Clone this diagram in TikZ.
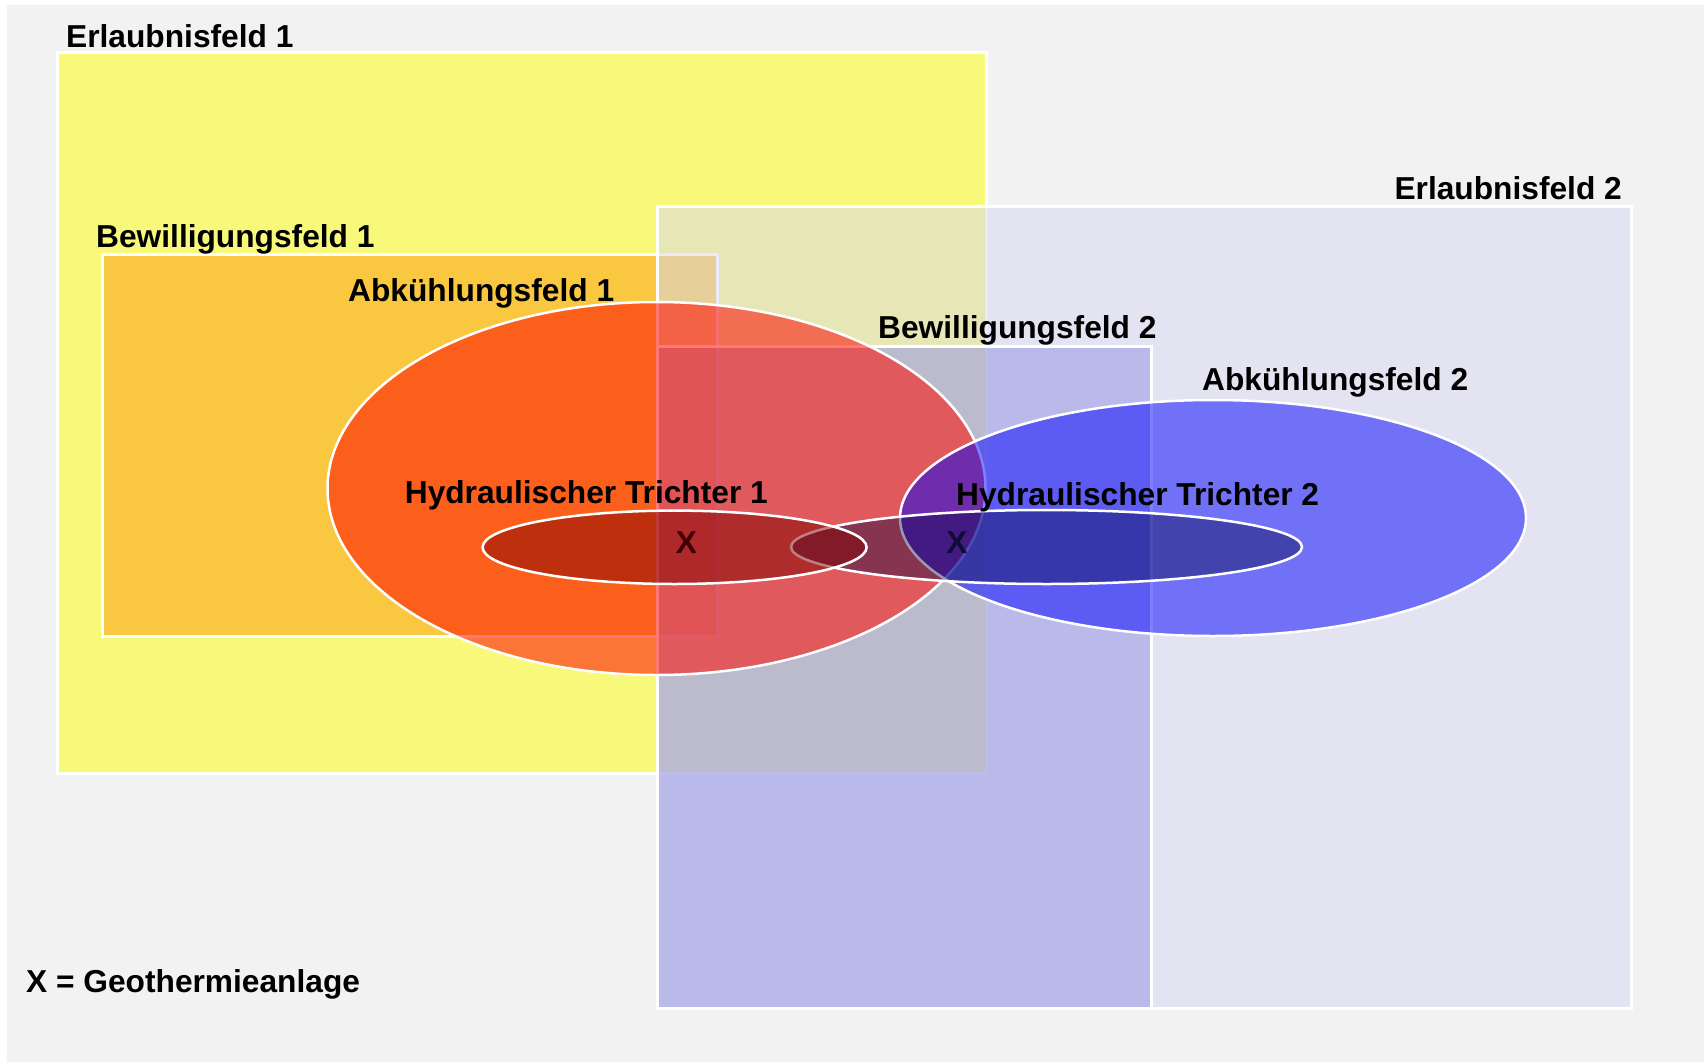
\documentclass[tikz,border=0pt]{standalone}
\usepackage{fontspec}
\setmainfont{Liberation Sans}
\definecolor{bgc}{HTML}{F2F2F2}
\definecolor{eonec}{HTML}{F8F87A}
\definecolor{bonec}{HTML}{F9C840}
\definecolor{etwoc}{RGB}{214,214,242}
\definecolor{btwoc}{RGB}{146,146,228}
\definecolor{aonec}{RGB}{255,10,0}
\definecolor{atwoc}{RGB}{0,0,255}
\definecolor{htonec}{RGB}{128,0,0}
\definecolor{httwoc}{RGB}{0,0,64}
\definecolor{xonec}{HTML}{400006}
\definecolor{xtwoc}{HTML}{0E0E36}
\tikzset{
  field/.style={draw=white, line width=3pt},
  zone/.style={draw=white, line width=2.5pt},
  lbl/.style={inner sep=0pt, font=\fontsize{31.7}{36}\selectfont\bfseries, text=black},
}
\begin{document}
\begin{tikzpicture}[x=1pt,y=-1pt]
\useasboundingbox (0,0) rectangle (1704,1062);
\fill[white] (0,0) rectangle (1704,1062);
\fill[bgc] (7,5) rectangle (1704,1062);
% Erlaubnisfeld 1
\filldraw[field, fill=eonec] (57,53) rectangle (986,773);
% Bewilligungsfeld 1
\filldraw[field, fill=bonec] (102,254) rectangle (717,636);
% Erlaubnisfeld 2
\filldraw[field, fill=etwoc, fill opacity=0.5] (657,206) rectangle (1631,1008);
% Bewilligungsfeld 2
\filldraw[field, fill=btwoc, fill opacity=0.5] (657,346) rectangle (1151,1008);
% Abkuehlungsfeld 1
\filldraw[zone, fill=aonec, fill opacity=0.55] (656.5,488.5) ellipse [x radius=329pt, y radius=186.5pt];
% Abkuehlungsfeld 2
\filldraw[zone, fill=atwoc, fill opacity=0.5] (1213,518) ellipse [x radius=313pt, y radius=118pt];
% Hydraulischer Trichter 2
\filldraw[zone, fill=httwoc, fill opacity=0.4] (1046.5,547) ellipse [x radius=255.5pt, y radius=37pt];
% Hydraulischer Trichter 1
\filldraw[zone, fill=htonec, fill opacity=0.5] (674.6,547.3) ellipse [x radius=192pt, y radius=36.7pt];
% labels
\node[lbl, anchor=base west] (le1) at (66,48) {Erlaubnisfeld 1};
\node[lbl, anchor=base west] (lb1) at (96,247) {Bewilligungsfeld 1};
\node[lbl, anchor=base west] (la1) at (348,301) {Abkühlungsfeld 1};
\node[lbl, anchor=base east] (le2) at (1622,199) {Erlaubnisfeld 2};
\node[lbl, anchor=base west] (lb2) at (878,338) {Bewilligungsfeld 2};
\node[lbl, anchor=base west] (la2) at (1202,390) {Abkühlungsfeld 2};
\node[lbl, anchor=base east] (lh1) at (768,503) {Hydraulischer Trichter 1};
\node[lbl, anchor=base west] (lh2) at (956,505) {Hydraulischer Trichter 2};
\node[lbl, anchor=base, text=xonec] (x1) at (686.5,553) {X};
\node[lbl, anchor=base, text=xtwoc] (x2) at (957,553) {X};
\node[lbl, anchor=base west] (leg) at (26,992) {X = Geothermieanlage};
\end{tikzpicture}
\end{document}
